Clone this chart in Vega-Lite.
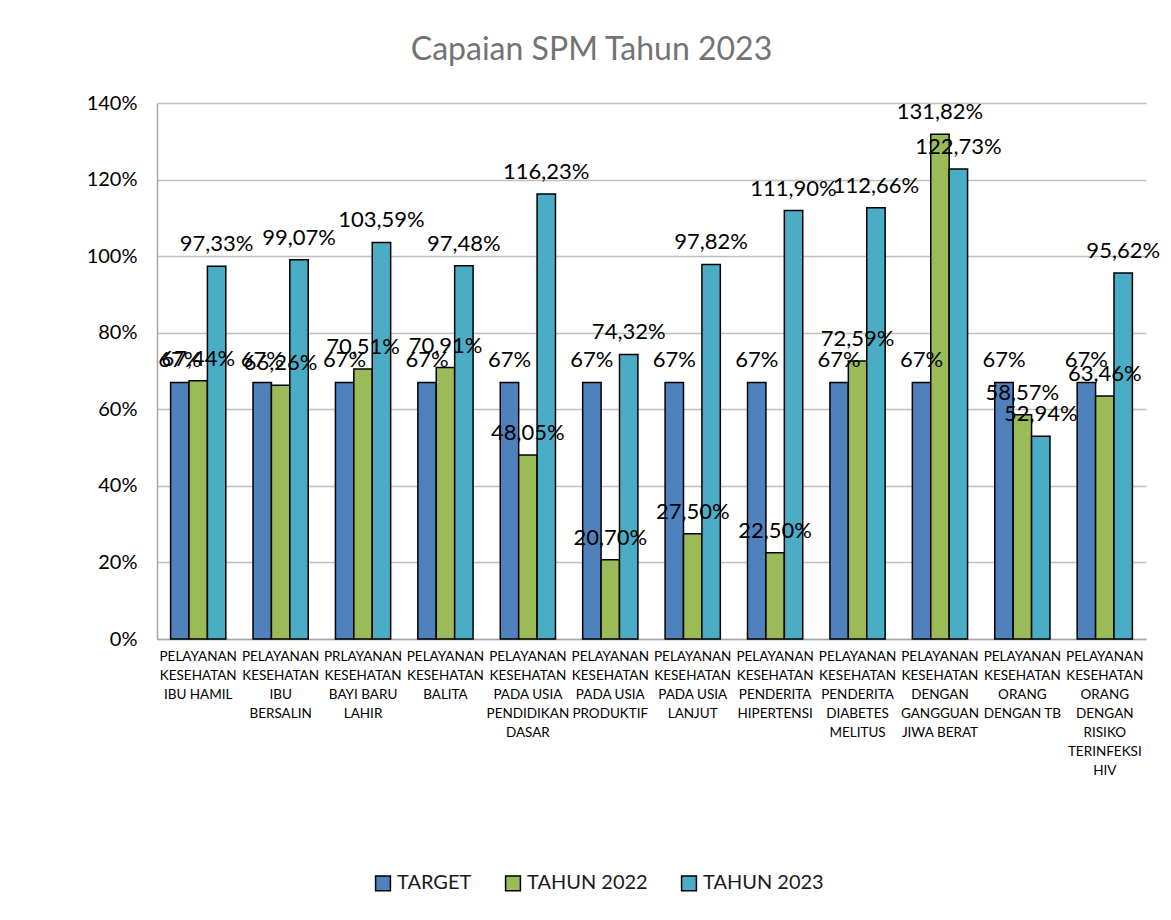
{
  "$schema": "https://vega.github.io/schema/vega-lite/v6.json",
  "autosize": {"type": "none"},
  "width": 989,
  "height": 536,
  "padding": {"left": 157, "top": 103, "right": 25, "bottom": 281},
  "background": "white",
  "title": {
    "text": "Capaian SPM Tahun 2023",
    "font": "Lato",
    "fontSize": 32,
    "fontWeight": "normal",
    "color": "#737373",
    "anchor": "middle",
    "dx": -60,
    "offset": 26
  },
  "data": {
    "values": [
      {"kategori": "PELAYANAN|KESEHATAN|IBU HAMIL", "seri": "TARGET", "nilai": 0.67},
      {"kategori": "PELAYANAN|KESEHATAN|IBU HAMIL", "seri": "TAHUN 2022", "nilai": 0.6744},
      {"kategori": "PELAYANAN|KESEHATAN|IBU HAMIL", "seri": "TAHUN 2023", "nilai": 0.9733},
      {"kategori": "PELAYANAN|KESEHATAN|IBU|BERSALIN", "seri": "TARGET", "nilai": 0.67},
      {"kategori": "PELAYANAN|KESEHATAN|IBU|BERSALIN", "seri": "TAHUN 2022", "nilai": 0.6626},
      {"kategori": "PELAYANAN|KESEHATAN|IBU|BERSALIN", "seri": "TAHUN 2023", "nilai": 0.9907},
      {"kategori": "PRLAYANAN|KESEHATAN|BAYI BARU|LAHIR", "seri": "TARGET", "nilai": 0.67},
      {"kategori": "PRLAYANAN|KESEHATAN|BAYI BARU|LAHIR", "seri": "TAHUN 2022", "nilai": 0.7051},
      {"kategori": "PRLAYANAN|KESEHATAN|BAYI BARU|LAHIR", "seri": "TAHUN 2023", "nilai": 1.0359},
      {"kategori": "PELAYANAN|KESEHATAN|BALITA", "seri": "TARGET", "nilai": 0.67},
      {"kategori": "PELAYANAN|KESEHATAN|BALITA", "seri": "TAHUN 2022", "nilai": 0.7091},
      {"kategori": "PELAYANAN|KESEHATAN|BALITA", "seri": "TAHUN 2023", "nilai": 0.9748},
      {"kategori": "PELAYANAN|KESEHATAN|PADA USIA|PENDIDIKAN|DASAR", "seri": "TARGET", "nilai": 0.67},
      {"kategori": "PELAYANAN|KESEHATAN|PADA USIA|PENDIDIKAN|DASAR", "seri": "TAHUN 2022", "nilai": 0.4805},
      {"kategori": "PELAYANAN|KESEHATAN|PADA USIA|PENDIDIKAN|DASAR", "seri": "TAHUN 2023", "nilai": 1.1623},
      {"kategori": "PELAYANAN|KESEHATAN|PADA USIA|PRODUKTIF", "seri": "TARGET", "nilai": 0.67},
      {"kategori": "PELAYANAN|KESEHATAN|PADA USIA|PRODUKTIF", "seri": "TAHUN 2022", "nilai": 0.207},
      {"kategori": "PELAYANAN|KESEHATAN|PADA USIA|PRODUKTIF", "seri": "TAHUN 2023", "nilai": 0.7432},
      {"kategori": "PELAYANAN|KESEHATAN|PADA USIA|LANJUT", "seri": "TARGET", "nilai": 0.67},
      {"kategori": "PELAYANAN|KESEHATAN|PADA USIA|LANJUT", "seri": "TAHUN 2022", "nilai": 0.275},
      {"kategori": "PELAYANAN|KESEHATAN|PADA USIA|LANJUT", "seri": "TAHUN 2023", "nilai": 0.9782},
      {"kategori": "PELAYANAN|KESEHATAN|PENDERITA|HIPERTENSI", "seri": "TARGET", "nilai": 0.67},
      {"kategori": "PELAYANAN|KESEHATAN|PENDERITA|HIPERTENSI", "seri": "TAHUN 2022", "nilai": 0.225},
      {"kategori": "PELAYANAN|KESEHATAN|PENDERITA|HIPERTENSI", "seri": "TAHUN 2023", "nilai": 1.119},
      {"kategori": "PELAYANAN|KESEHATAN|PENDERITA|DIABETES|MELITUS", "seri": "TARGET", "nilai": 0.67},
      {"kategori": "PELAYANAN|KESEHATAN|PENDERITA|DIABETES|MELITUS", "seri": "TAHUN 2022", "nilai": 0.7259},
      {"kategori": "PELAYANAN|KESEHATAN|PENDERITA|DIABETES|MELITUS", "seri": "TAHUN 2023", "nilai": 1.1266},
      {"kategori": "PELAYANAN|KESEHATAN|DENGAN|GANGGUAN|JIWA BERAT", "seri": "TARGET", "nilai": 0.67},
      {"kategori": "PELAYANAN|KESEHATAN|DENGAN|GANGGUAN|JIWA BERAT", "seri": "TAHUN 2022", "nilai": 1.3182},
      {"kategori": "PELAYANAN|KESEHATAN|DENGAN|GANGGUAN|JIWA BERAT", "seri": "TAHUN 2023", "nilai": 1.2273},
      {"kategori": "PELAYANAN|KESEHATAN|ORANG|DENGAN TB", "seri": "TARGET", "nilai": 0.67},
      {"kategori": "PELAYANAN|KESEHATAN|ORANG|DENGAN TB", "seri": "TAHUN 2022", "nilai": 0.5857},
      {"kategori": "PELAYANAN|KESEHATAN|ORANG|DENGAN TB", "seri": "TAHUN 2023", "nilai": 0.5294},
      {"kategori": "PELAYANAN|KESEHATAN|ORANG|DENGAN|RISIKO|TERINFEKSI|HIV", "seri": "TARGET", "nilai": 0.67},
      {"kategori": "PELAYANAN|KESEHATAN|ORANG|DENGAN|RISIKO|TERINFEKSI|HIV", "seri": "TAHUN 2022", "nilai": 0.6346},
      {"kategori": "PELAYANAN|KESEHATAN|ORANG|DENGAN|RISIKO|TERINFEKSI|HIV", "seri": "TAHUN 2023", "nilai": 0.9562}
    ]
  },
  "encoding": {
    "x": {
      "field": "kategori",
      "type": "nominal",
      "sort": null,
      "title": null,
      "scale": {"paddingInner": 0.33, "paddingOuter": 0.165},
      "axis": {
        "labelAngle": 0,
        "labelExpr": "split(datum.label, '|')",
        "labelFont": "Lato",
        "labelFontSize": 13.5,
        "labelLineHeight": 19,
        "labelColor": "#000000",
        "labelLimit": 0,
        "labelOverlap": false,
        "labelPadding": 10,
        "labelBaseline": "top",
        "ticks": false,
        "domainColor": "#A6A6A6",
        "domainWidth": 1.5,
        "grid": false
      }
    },
    "xOffset": {
      "field": "seri",
      "type": "nominal",
      "sort": ["TARGET", "TAHUN 2022", "TAHUN 2023"]
    },
    "y": {
      "field": "nilai",
      "type": "quantitative",
      "title": null,
      "scale": {"domain": [0, 1.4], "nice": false},
      "axis": {
        "values": [0, 0.2, 0.4, 0.6, 0.8, 1.0, 1.2, 1.4],
        "format": ".0%",
        "labelFont": "Lato",
        "labelFontSize": 20,
        "labelColor": "#000000",
        "labelPadding": 20,
        "ticks": false,
        "domainColor": "#A6A6A6",
        "domainWidth": 1.5,
        "gridColor": "#BFBFBF",
        "gridWidth": 1.5
      }
    }
  },
  "layer": [
    {
      "mark": {"type": "bar", "stroke": "#000000", "strokeWidth": 1.5},
      "encoding": {
        "color": {
          "field": "seri",
          "type": "nominal",
          "sort": ["TARGET", "TAHUN 2022", "TAHUN 2023"],
          "scale": {
            "domain": ["TARGET", "TAHUN 2022", "TAHUN 2023"],
            "range": ["#4F81BD", "#9BBB59", "#4BACC6"]
          },
          "legend": {
            "title": null,
            "orient": "none",
            "legendX": 216,
            "legendY": 770,
            "direction": "horizontal",
            "symbolType": "square",
            "symbolSize": 220,
            "symbolStrokeColor": "#000000",
            "symbolStrokeWidth": 1.5,
            "labelFont": "Lato",
            "labelFontSize": 20,
            "labelColor": "#1a1a1a",
            "columnPadding": 30,
            "labelOffset": 4
          }
        }
      }
    },
    {
      "transform": [{"filter": "datum.seri === 'TARGET'"}],
      "mark": {"type": "text", "font": "Lato", "fontSize": 22, "baseline": "bottom", "dy": -10, "color": "#000000"},
      "encoding": {"text": {"field": "nilai", "type": "quantitative", "format": ".0%"}}
    },
    {
      "transform": [{"filter": "datum.seri !== 'TARGET'"}],
      "mark": {"type": "text", "font": "Lato", "fontSize": 22, "baseline": "bottom", "dy": -10, "color": "#000000"},
      "encoding": {"text": {"field": "nilai", "type": "quantitative", "format": ".2%"}}
    }
  ],
  "config": {
    "locale": {"number": {"decimal": ",", "thousands": ".", "grouping": [3], "currency": ["Rp", ""]}},
    "view": {"stroke": null}
  }
}
